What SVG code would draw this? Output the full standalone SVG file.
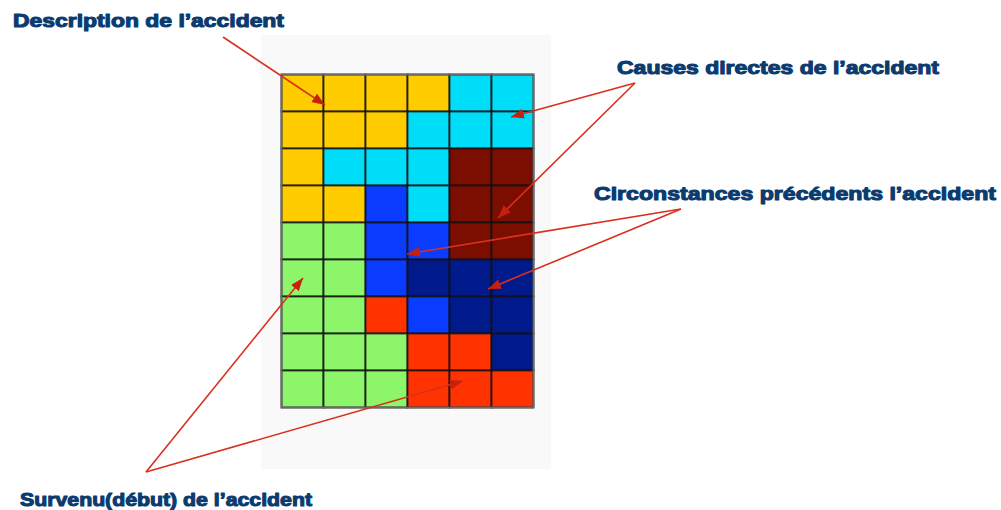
<svg xmlns="http://www.w3.org/2000/svg" width="1001" height="510" viewBox="0 0 1001 510">
  <style>
    .lbl { font-family: "Liberation Sans", Arial, sans-serif; font-weight: 900; font-size: 19px; fill: #0B3B6F; stroke: #0B3B6F; stroke-width: 1.1; stroke-linejoin: round; }
    .cell { stroke: #111111; stroke-width: 1.8; stroke-opacity: 0.85; }
    .y { fill: #FFCC00; }
    .c { fill: #00DDF8; }
    .m { fill: #7B0E00; }
    .b { fill: #0A3CFF; }
    .n { fill: #001A8C; }
    .g { fill: #8CF56A; }
    .r { fill: #FF3300; }
    .arrow { stroke: #D9301E; stroke-width: 1.6; fill: none; marker-end: url(#head); }
  </style>
  <defs>
    <marker id="head" markerUnits="userSpaceOnUse" markerWidth="14" markerHeight="12" refX="13" refY="5" orient="auto">
      <path d="M0,0 L13,5 L0,10 Z" fill="#C8200E"/>
    </marker>
  </defs>

  <rect width="1001" height="510" fill="#ffffff"/>
  <!-- light panel behind the grid -->
  <rect x="261" y="35" width="290" height="434" fill="#F9F9F9"/>

  <!-- 6 x 9 grid of coloured cells -->
  <g id="grid" transform="translate(281.5,74.5)">
    <g id="row0">
      <rect class="cell y" x="0" y="0" width="42" height="37"/>
      <rect class="cell y" x="42" y="0" width="42" height="37"/>
      <rect class="cell y" x="84" y="0" width="42" height="37"/>
      <rect class="cell y" x="126" y="0" width="42" height="37"/>
      <rect class="cell c" x="168" y="0" width="42" height="37"/>
      <rect class="cell c" x="210" y="0" width="42" height="37"/>
    </g>
    <g id="row1">
      <rect class="cell y" x="0" y="37" width="42" height="37"/>
      <rect class="cell y" x="42" y="37" width="42" height="37"/>
      <rect class="cell y" x="84" y="37" width="42" height="37"/>
      <rect class="cell c" x="126" y="37" width="42" height="37"/>
      <rect class="cell c" x="168" y="37" width="42" height="37"/>
      <rect class="cell c" x="210" y="37" width="42" height="37"/>
    </g>
    <g id="row2">
      <rect class="cell y" x="0" y="74" width="42" height="37"/>
      <rect class="cell c" x="42" y="74" width="42" height="37"/>
      <rect class="cell c" x="84" y="74" width="42" height="37"/>
      <rect class="cell c" x="126" y="74" width="42" height="37"/>
      <rect class="cell m" x="168" y="74" width="42" height="37"/>
      <rect class="cell m" x="210" y="74" width="42" height="37"/>
    </g>
    <g id="row3">
      <rect class="cell y" x="0" y="111" width="42" height="37"/>
      <rect class="cell y" x="42" y="111" width="42" height="37"/>
      <rect class="cell b" x="84" y="111" width="42" height="37"/>
      <rect class="cell c" x="126" y="111" width="42" height="37"/>
      <rect class="cell m" x="168" y="111" width="42" height="37"/>
      <rect class="cell m" x="210" y="111" width="42" height="37"/>
    </g>
    <g id="row4">
      <rect class="cell g" x="0" y="148" width="42" height="37"/>
      <rect class="cell g" x="42" y="148" width="42" height="37"/>
      <rect class="cell b" x="84" y="148" width="42" height="37"/>
      <rect class="cell b" x="126" y="148" width="42" height="37"/>
      <rect class="cell m" x="168" y="148" width="42" height="37"/>
      <rect class="cell m" x="210" y="148" width="42" height="37"/>
    </g>
    <g id="row5">
      <rect class="cell g" x="0" y="185" width="42" height="37"/>
      <rect class="cell g" x="42" y="185" width="42" height="37"/>
      <rect class="cell b" x="84" y="185" width="42" height="37"/>
      <rect class="cell n" x="126" y="185" width="42" height="37"/>
      <rect class="cell n" x="168" y="185" width="42" height="37"/>
      <rect class="cell n" x="210" y="185" width="42" height="37"/>
    </g>
    <g id="row6">
      <rect class="cell g" x="0" y="222" width="42" height="37"/>
      <rect class="cell g" x="42" y="222" width="42" height="37"/>
      <rect class="cell r" x="84" y="222" width="42" height="37"/>
      <rect class="cell b" x="126" y="222" width="42" height="37"/>
      <rect class="cell n" x="168" y="222" width="42" height="37"/>
      <rect class="cell n" x="210" y="222" width="42" height="37"/>
    </g>
    <g id="row7">
      <rect class="cell g" x="0" y="259" width="42" height="37"/>
      <rect class="cell g" x="42" y="259" width="42" height="37"/>
      <rect class="cell g" x="84" y="259" width="42" height="37"/>
      <rect class="cell r" x="126" y="259" width="42" height="37"/>
      <rect class="cell r" x="168" y="259" width="42" height="37"/>
      <rect class="cell n" x="210" y="259" width="42" height="37"/>
    </g>
    <g id="row8">
      <rect class="cell g" x="0" y="296" width="42" height="37"/>
      <rect class="cell g" x="42" y="296" width="42" height="37"/>
      <rect class="cell g" x="84" y="296" width="42" height="37"/>
      <rect class="cell r" x="126" y="296" width="42" height="37"/>
      <rect class="cell r" x="168" y="296" width="42" height="37"/>
      <rect class="cell r" x="210" y="296" width="42" height="37"/>
    </g>
    <rect x="0" y="0" width="252" height="333" fill="none" stroke="#6a6a6a" stroke-width="1.8"/>
  </g>

  <!-- labels -->
  <g id="label-description">
    <text class="lbl" x="13" y="27" textLength="271" lengthAdjust="spacingAndGlyphs">Description de l’accident</text>
  </g>
  <g id="label-causes">
    <text class="lbl" x="617" y="74" textLength="322" lengthAdjust="spacingAndGlyphs">Causes directes de l’accident</text>
  </g>
  <g id="label-circonstances">
    <text class="lbl" x="594" y="200" textLength="402" lengthAdjust="spacingAndGlyphs">Circonstances précédents l’accident</text>
  </g>
  <g id="label-survenu">
    <text class="lbl" x="20" y="506" textLength="292" lengthAdjust="spacingAndGlyphs">Survenu(début) de l’accident</text>
  </g>

  <!-- pointer arrows -->
  <g id="connectors">
    <line class="arrow" x1="223" y1="37" x2="325" y2="105"/>
    <line class="arrow" x1="635" y1="83" x2="511" y2="117"/>
    <line class="arrow" x1="635" y1="83" x2="498" y2="218"/>
    <line class="arrow" x1="681" y1="209" x2="407" y2="254"/>
    <line class="arrow" x1="681" y1="209" x2="488" y2="289"/>
    <line class="arrow" x1="146" y1="472" x2="303" y2="278"/>
    <line class="arrow" x1="146" y1="472" x2="463" y2="381"/>
  </g>
</svg>
